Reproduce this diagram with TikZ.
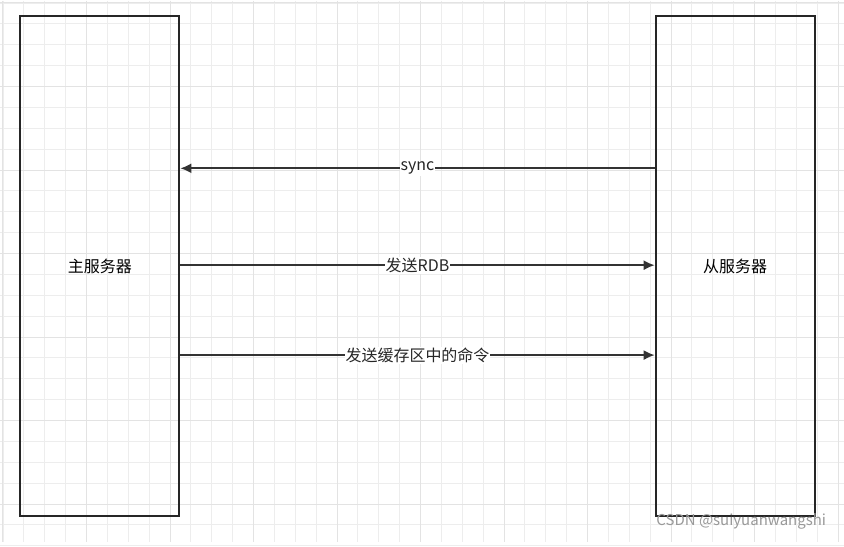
\documentclass[tikz,border=0pt]{standalone}
\usepackage{fontspec}
\setmainfont{Noto Sans CJK SC}
\usetikzlibrary{arrows.meta}
\begin{document}
\begin{tikzpicture}[x=1pt,y=-1pt,
  box/.style={draw=black!85,line width=2pt,minimum width=159pt,minimum height=500pt,anchor=north west,font=\fontsize{16}{18}\selectfont},
  arr/.style={draw=black!80,line width=2pt,-{Latex[length=11pt,width=10pt]}},
  lbl/.style={fill=white,inner sep=1pt,font=\fontsize{16}{18}\selectfont,text=black!85}]
\fill[white] (0,0) rectangle (844,542);
\foreach \i in {0,...,40} \draw[black!7,line width=0.8pt] (2.5+\i*20.9,0) -- (2.5+\i*20.9,542);
\foreach \i in {0,...,26} \draw[black!7,line width=0.8pt] (0,2.5+\i*20.9) -- (844,2.5+\i*20.9);
\foreach \i in {0,...,10} \draw[black!11,line width=1pt] (2.5+\i*83.6,0) -- (2.5+\i*83.6,542);
\foreach \i in {0,...,6} \draw[black!11,line width=1pt] (0,2.5+\i*83.6) -- (844,2.5+\i*83.6);
\node[box] (m) at (19,15) {主服务器};
\node[box] (s) at (655,15) {从服务器};
\path (s.west |- 0,168) coordinate (a1) (m.east |- 0,168) coordinate (a2);
\path (m.east |- 0,265) coordinate (b1) (s.west |- 0,265) coordinate (b2);
\path (m.east |- 0,355) coordinate (c1) (s.west |- 0,355) coordinate (c2);
\draw[arr] (a1) -- node[lbl] (t1) {sync} (a2);
\draw[arr] (b1) -- node[lbl] (t2) {发送RDB} (b2);
\draw[arr] (c1) -- node[lbl] (t3) {发送缓存区中的命令} (c2);
\node[anchor=east,text=black!40,font=\fontsize{15}{17}\selectfont] (w) at (830,522) {CSDN @suiyuanwangshi};
\end{tikzpicture}
\end{document}
